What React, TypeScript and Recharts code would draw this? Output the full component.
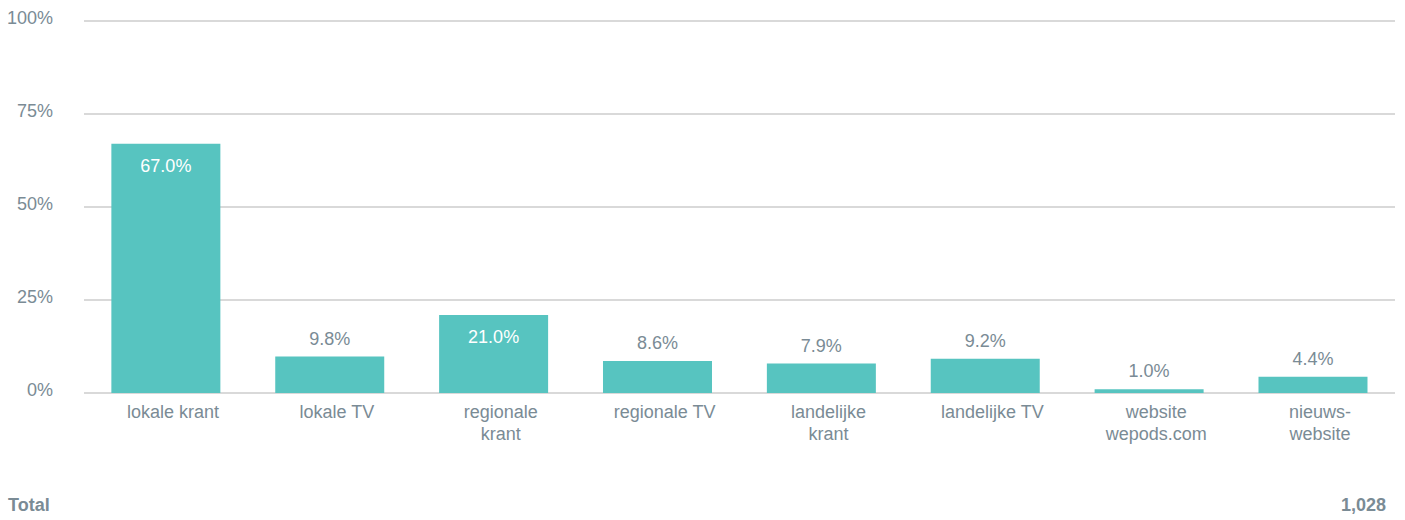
import React from "react";
import { BarChart, Bar, XAxis, YAxis, CartesianGrid, LabelList } from "recharts";

const categories = [
  "lokale krant",
  "lokale TV",
  "regionale\nkrant",
  "regionale TV",
  "landelijke\nkrant",
  "landelijke TV",
  "website\nwepods.com",
  "nieuws-\nwebsite",
];
const values = [67.0, 9.8, 21.0, 8.6, 7.9, 9.2, 1.0, 4.4];
const yTicks = [0, 25, 50, 75, 100];
const totalLabel = "Total";
const totalValue = "1,028";

const data = categories.map((c, i) => ({ name: c, value: values[i] }));

const TEXT = "#7a8b95";
const BAR = "#57c4c0";
const FONT = "'Liberation Sans', Arial, Helvetica, sans-serif";
const FS = 18;

const XTick = (props: any) => {
  const { x, y, payload } = props;
  const lines = String(payload.value).split("\n");
  return (
    <g transform={`translate(${x},${y})`}>
      {lines.map((l, i) => (
        <text
          key={i}
          x={7}
          y={0}
          dy={17 + i * 22}
          textAnchor="middle"
          fill={TEXT}
          fontSize={FS}
          fontFamily={FONT}
        >
          {l}
        </text>
      ))}
    </g>
  );
};

const YTick = (props: any) => {
  const { x, y, payload } = props;
  return (
    <text x={x} y={y} dy={3} textAnchor="end" fill={TEXT} fontSize={FS} fontFamily={FONT}>
      {payload.value}%
    </text>
  );
};

const ValueLabel = (props: any) => {
  const { x, y, width, value } = props;
  const inside = value > 15;
  return (
    <text
      x={x + width / 2}
      y={inside ? y + 28 : y - 12}
      textAnchor="middle"
      fill={inside ? "#ffffff" : TEXT}
      fontSize={FS}
      fontFamily={FONT}
    >
      {Number(value).toFixed(1)}%
    </text>
  );
};

export default function App() {
  return (
    <div
      style={{
        position: "absolute",
        left: 0,
        top: 0,
        width: 1405,
        height: 520,
        background: "#fff",
        fontFamily: FONT,
      }}
    >
      <BarChart
        width={1405}
        height={520}
        data={data}
        margin={{ top: 21, right: 10, left: 0, bottom: 67 }}
        barCategoryGap="16.7%"
      >
        <CartesianGrid vertical={false} stroke="#d9d9d9" strokeWidth={2} />
        <XAxis
          dataKey="name"
          axisLine={false}
          tickLine={false}
          interval={0}
          height={60}
          tick={<XTick />}
        />
        <YAxis
          domain={[0, 100]}
          ticks={yTicks}
          axisLine={false}
          tickLine={false}
          tickSize={0}
          tickMargin={31}
          width={84}
          tick={<YTick />}
        />
        <Bar dataKey="value" fill={BAR} isAnimationActive={false}>
          <LabelList dataKey="value" content={<ValueLabel />} />
        </Bar>
      </BarChart>
      <div
        style={{
          position: "absolute",
          left: 8,
          top: 495,
          fontSize: FS,
          fontWeight: "bold",
          color: TEXT,
        }}
      >
        {totalLabel}
      </div>
      <div
        style={{
          position: "absolute",
          right: 19,
          top: 495,
          fontSize: FS,
          fontWeight: "bold",
          color: TEXT,
        }}
      >
        {totalValue}
      </div>
    </div>
  );
}
